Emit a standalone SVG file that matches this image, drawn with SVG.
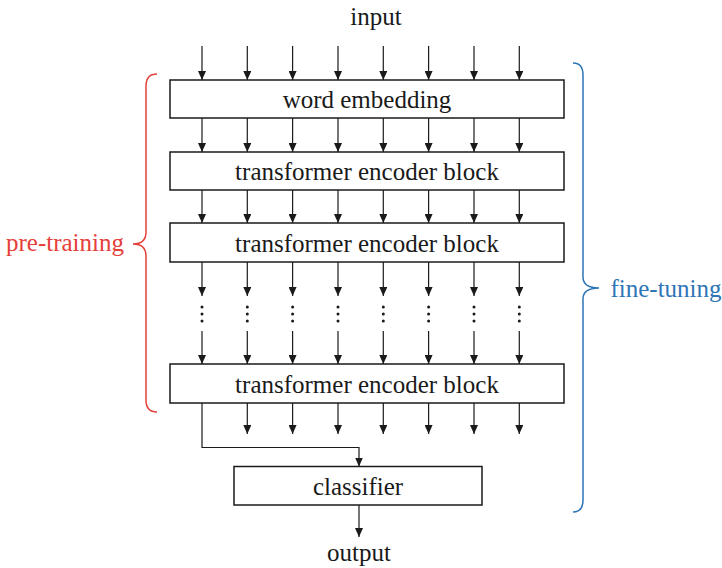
<svg xmlns="http://www.w3.org/2000/svg" width="722" height="568" viewBox="0 0 722 568">
  <defs>
    <marker id="arrow" viewBox="0 0 8 9" refX="4" refY="9" markerWidth="8" markerHeight="9" markerUnits="userSpaceOnUse" orient="auto-start-reverse">
      <path d="M0,0 L8,0 L4,9 Z" fill="#1a1a1a" transform="rotate(-90 4 4.5) translate(0 0)"/>
    </marker>
    <marker id="head" viewBox="0 0 9 8" refX="9" refY="4" markerWidth="9" markerHeight="8" markerUnits="userSpaceOnUse" orient="auto">
      <path d="M0,0 L9,4 L0,8 Z" fill="#1a1a1a"/>
    </marker>
  </defs>
  <style>
    .box { fill: #ffffff; stroke: #1a1a1a; stroke-width: 1.5; }
    .lbl { font-family: "Liberation Serif", "Times New Roman", serif; font-size: 25px; fill: #1a1a1a; text-anchor: middle; }
    .edge { fill: none; stroke: #1a1a1a; stroke-width: 1.2; }
    .arr { marker-end: url(#head); }
    .dot { fill: #1a1a1a; }
  </style>
  <rect width="722" height="568" fill="#ffffff"/>

  <!-- connectors -->
  <g id="connectors">
    <!-- input -> word embedding -->
    <g class="edge arr">
      <path d="M202,46 V80"/><path d="M247.3,46 V80"/><path d="M292.6,46 V80"/><path d="M338,46 V80"/>
      <path d="M383.3,46 V80"/><path d="M428.6,46 V80"/><path d="M474,46 V80"/><path d="M519.3,46 V80"/>
    </g>
    <!-- word embedding -> encoder 1 -->
    <g class="edge arr">
      <path d="M202,118 V152"/><path d="M247.3,118 V152"/><path d="M292.6,118 V152"/><path d="M338,118 V152"/>
      <path d="M383.3,118 V152"/><path d="M428.6,118 V152"/><path d="M474,118 V152"/><path d="M519.3,118 V152"/>
    </g>
    <!-- encoder 1 -> encoder 2 -->
    <g class="edge arr">
      <path d="M202,190 V223"/><path d="M247.3,190 V223"/><path d="M292.6,190 V223"/><path d="M338,190 V223"/>
      <path d="M383.3,190 V223"/><path d="M428.6,190 V223"/><path d="M474,190 V223"/><path d="M519.3,190 V223"/>
    </g>
    <!-- encoder 2 -> ellipsis -->
    <g class="edge arr">
      <path d="M202,262 V296"/><path d="M247.3,262 V296"/><path d="M292.6,262 V296"/><path d="M338,262 V296"/>
      <path d="M383.3,262 V296"/><path d="M428.6,262 V296"/><path d="M474,262 V296"/><path d="M519.3,262 V296"/>
    </g>
    <!-- ellipsis -> encoder N -->
    <g class="edge arr">
      <path d="M202,331 V364"/><path d="M247.3,331 V364"/><path d="M292.6,331 V364"/><path d="M338,331 V364"/>
      <path d="M383.3,331 V364"/><path d="M428.6,331 V364"/><path d="M474,331 V364"/><path d="M519.3,331 V364"/>
    </g>
    <!-- encoder N outputs -->
    <g class="edge arr">
      <path d="M247.3,403 V434"/><path d="M292.6,403 V434"/><path d="M338,403 V434"/>
      <path d="M383.3,403 V434"/><path d="M428.6,403 V434"/><path d="M474,403 V434"/><path d="M519.3,403 V434"/>
    </g>
    <!-- first token -> classifier -->
    <path class="edge arr" d="M202,403 V447.5 H359 V466.5"/>
    <!-- classifier -> output -->
    <path class="edge arr" d="M359,505 V537"/>
    <!-- vertical ellipsis -->
    <g class="dot">
      <circle cx="202" cy="307" r="1.5"/><circle cx="202" cy="314" r="1.5"/><circle cx="202" cy="321" r="1.5"/>
      <circle cx="247.3" cy="307" r="1.5"/><circle cx="247.3" cy="314" r="1.5"/><circle cx="247.3" cy="321" r="1.5"/>
      <circle cx="292.6" cy="307" r="1.5"/><circle cx="292.6" cy="314" r="1.5"/><circle cx="292.6" cy="321" r="1.5"/>
      <circle cx="338" cy="307" r="1.5"/><circle cx="338" cy="314" r="1.5"/><circle cx="338" cy="321" r="1.5"/>
      <circle cx="383.3" cy="307" r="1.5"/><circle cx="383.3" cy="314" r="1.5"/><circle cx="383.3" cy="321" r="1.5"/>
      <circle cx="428.6" cy="307" r="1.5"/><circle cx="428.6" cy="314" r="1.5"/><circle cx="428.6" cy="321" r="1.5"/>
      <circle cx="474" cy="307" r="1.5"/><circle cx="474" cy="314" r="1.5"/><circle cx="474" cy="321" r="1.5"/>
      <circle cx="519.3" cy="307" r="1.5"/><circle cx="519.3" cy="314" r="1.5"/><circle cx="519.3" cy="321" r="1.5"/>
    </g>
  </g>

  <g id="input"><text class="lbl" x="376" y="25">input</text></g>

  <g id="word-embedding">
    <rect class="box" x="170" y="80" width="394" height="38"/>
    <text class="lbl" x="367" y="108">word embedding</text>
  </g>
  <g id="encoder-1">
    <rect class="box" x="170" y="152" width="394" height="38"/>
    <text class="lbl" x="367" y="180">transformer encoder block</text>
  </g>
  <g id="encoder-2">
    <rect class="box" x="170" y="223" width="394" height="39"/>
    <text class="lbl" x="367" y="252">transformer encoder block</text>
  </g>
  <g id="encoder-n">
    <rect class="box" x="170" y="364" width="394" height="39"/>
    <text class="lbl" x="367" y="393">transformer encoder block</text>
  </g>
  <g id="classifier">
    <rect class="box" x="234" y="466.5" width="248" height="38.5"/>
    <text class="lbl" x="358" y="495">classifier</text>
  </g>
  <g id="output"><text class="lbl" x="359" y="561">output</text></g>

  <g id="pre-training">
    <path d="M157,74 Q146,74 146,86 L146,232 Q146,244 133,244 Q146,244 146,256 L146,400 Q146,412 157,412" fill="none" stroke="#e5403a" stroke-width="1.5"/>
    <text class="lbl" x="65" y="251" style="fill:#e5403a">pre-training</text>
  </g>
  <g id="fine-tuning">
    <path d="M573,63 Q583,63 583,75 L583,277 Q583,288 599,288 Q583,288 583,299 L583,500 Q583,512 573,512" fill="none" stroke="#2e75b6" stroke-width="1.5"/>
    <text class="lbl" x="666" y="297" style="fill:#2e75b6">fine-tuning</text>
  </g>
</svg>
